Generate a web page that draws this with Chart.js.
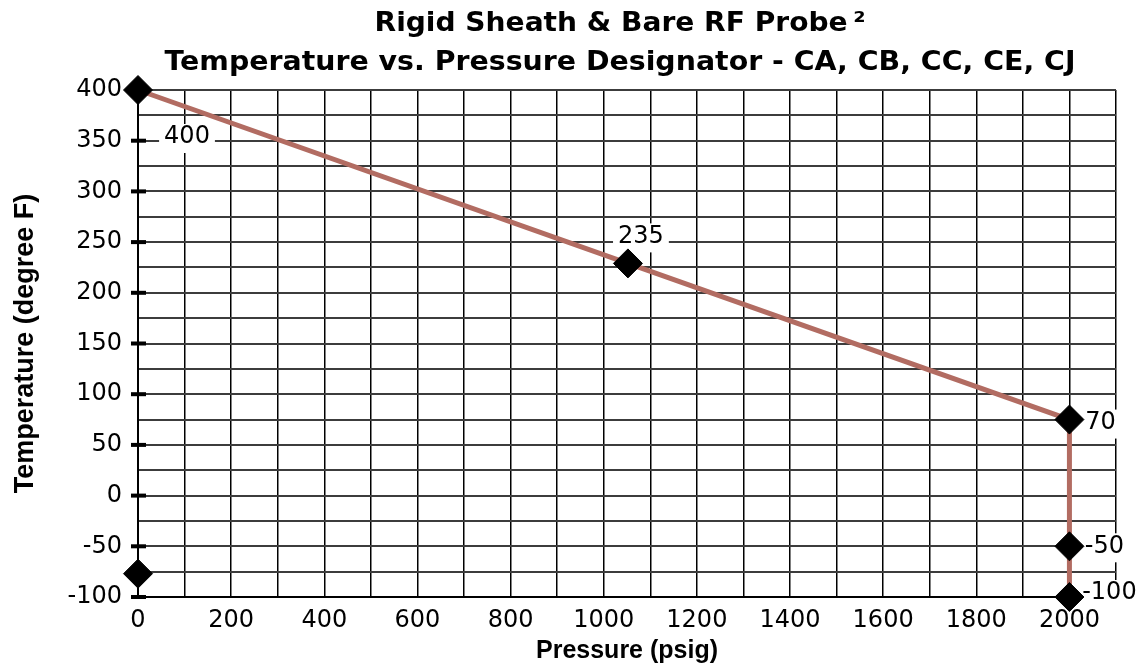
<!DOCTYPE html>
<html lang="en">
<head>
  <meta charset="UTF-8" />
  <title>Rigid Sheath &amp; Bare RF Probe - Temperature vs. Pressure</title>
  <script src="https://cdn.jsdelivr.net/npm/chart.js"></script>
  <style>
    html, body { margin: 0; padding: 0; background: #fff; }
    .chart-box { width: 1142px; height: 666px; position: relative; }
  </style>
</head>
<body>
  <div class="chart-box"><canvas id="probeChart"></canvas></div>

  <script>
    // data
    const pressure = [0, 1052, 2000, 2000, 2000];
    const temperature = [400, 229, 75, -50, -100];
    const pointLabels = ['400', '235', '70', '-50', '-100'];
    const extraPressure = [0];
    const extraTemperature = [-77];
    const xTickLabels = [0, 200, 400, 600, 800, 1000, 1200, 1400, 1600, 1800, 2000];
    const yTickLabels = [-100, -50, 0, 50, 100, 150, 200, 250, 300, 350, 400];
    const titleLines = ['Rigid Sheath & Bare RF Probe\u2009\u00b2', 'Temperature vs. Pressure Designator - CA, CB, CC, CE, CJ'];

    const lineColor = '#b26c62';

    // wide bold title, stretched to the reference width
    const stretchTitle = {
      id: 'stretchTitle',
      afterDraw(chart, args, opts) {
        const ctx = chart.ctx;
        ctx.save();
        ctx.fillStyle = '#000';
        ctx.font = opts.font;
        ctx.textAlign = 'center';
        ctx.textBaseline = 'alphabetic';
        opts.lines.forEach((line, i) => {
          const w = ctx.measureText(line).width;
          const sx = opts.widths[i] / w;
          ctx.save();
          ctx.translate(opts.centerX, opts.baselines[i]);
          ctx.scale(sx, 1);
          ctx.fillText(line, 0, 0);
          ctx.restore();
        });
        ctx.restore();
      }
    };

    // short thick marks on the y axis at the labelled values
    const yTickMarks = {
      id: 'yTickMarks',
      afterDraw(chart) {
        const ctx = chart.ctx;
        const y = chart.scales.y;
        const x0 = chart.scales.x.getPixelForValue(0);
        ctx.save();
        ctx.fillStyle = '#000';
        yTickLabels.forEach(v => {
          const py = y.getPixelForValue(v);
          ctx.fillRect(x0 - 7, py - 2, 15, 4);
        });
        ctx.restore();
      }
    };

    // value labels with a white box behind them
    const valueLabels = {
      id: 'valueLabels',
      beforeDatasetsDraw(chart, args, opts) {
        const ctx = chart.ctx;
        const meta = chart.getDatasetMeta(0);
        ctx.save();
        ctx.font = opts.font;
        ctx.textAlign = 'center';
        ctx.textBaseline = 'middle';
        meta.data.forEach((pt, i) => {
          const text = pointLabels[i];
          const off = opts.offsets[i];
          const cx = pt.x + off[0];
          const cy = pt.y + off[1];
          const w = ctx.measureText(text).width;
          ctx.fillStyle = '#fff';
          ctx.fillRect(cx - w / 2 - opts.padX, cy - 13, w + opts.padX * 2, 29);
          ctx.fillStyle = '#000';
          ctx.fillText(text, cx, cy);
        });
        ctx.restore();
      }
    };

    const ctx = document.getElementById('probeChart').getContext('2d');

    new Chart(ctx, {
      type: 'scatter',
      data: {
        datasets: [
          {
            label: 'Rating',
            data: pressure.map((p, i) => ({ x: p, y: temperature[i] })),
            showLine: true,
            borderColor: lineColor,
            borderWidth: 5,
            pointStyle: 'rectRot',
            pointRadius: 14.5,
            pointHoverRadius: 14.5,
            pointBackgroundColor: '#000',
            pointBorderColor: '#000',
            pointBorderWidth: 1,
            clip: false
          },
          {
            label: 'Extra',
            data: extraPressure.map((p, i) => ({ x: p, y: extraTemperature[i] })),
            showLine: false,
            pointStyle: 'rectRot',
            pointRadius: 14.5,
            pointHoverRadius: 14.5,
            pointBackgroundColor: '#000',
            pointBorderColor: '#000',
            pointBorderWidth: 1,
            clip: false
          }
        ]
      },
      options: {
        responsive: true,
        maintainAspectRatio: false,
        animation: false,
        layout: { padding: { top: 90, right: 26, bottom: 0, left: 0 } },
        plugins: {
          legend: { display: false },
          title: { display: false },
          tooltip: { enabled: false },
          stretchTitle: {
            lines: titleLines,
            font: 'bold 26px "DejaVu Sans"',
            centerX: 620,
            baselines: [31, 70],
            widths: [491, 911]
          },
          valueLabels: {
            font: '24px "DejaVu Sans"',
            padX: 5,
            offsets: [[49, 47], [13, -27], [31, 3], [35, 0], [40, -4]]
          }
        },
        scales: {
          x: {
            type: 'linear',
            min: 0,
            max: 2100,
            afterFit: scale => { scale.height = 69; },
            ticks: {
              stepSize: 100,
              autoSkip: false,
              maxRotation: 0,
              padding: 9,
              color: '#000',
              font: { family: 'DejaVu Sans', size: 24 },
              callback: v => xTickLabels.includes(v) ? String(v) : ''
            },
            grid: { color: '#000', lineWidth: 1.5, drawTicks: false },
            border: { display: true, color: '#000', width: 2 },
            title: {
              display: true,
              text: 'Pressure (psig)',
              color: '#000',
              font: { family: 'Liberation Sans', size: 25, weight: 'bold' },
              padding: { top: 0, bottom: 0 }
            }
          },
          y: {
            min: -100,
            max: 400,
            afterFit: scale => { scale.width = 138; },
            ticks: {
              stepSize: 25,
              autoSkip: false,
              padding: 16,
              color: '#000',
              font: { family: 'DejaVu Sans', size: 24 },
              callback: v => yTickLabels.includes(v) ? String(v) : ''
            },
            grid: { color: '#3c3c3c', lineWidth: 2, drawTicks: false },
            border: { display: true, color: '#000', width: 2 },
            title: {
              display: true,
              text: 'Temperature (degree F)',
              color: '#000',
              font: { family: 'Liberation Sans', size: 27, weight: 'bold' },
              padding: { top: 9, bottom: 0 }
            }
          }
        }
      },
      plugins: [stretchTitle, yTickMarks, valueLabels]
    });
  </script>
</body>
</html>
